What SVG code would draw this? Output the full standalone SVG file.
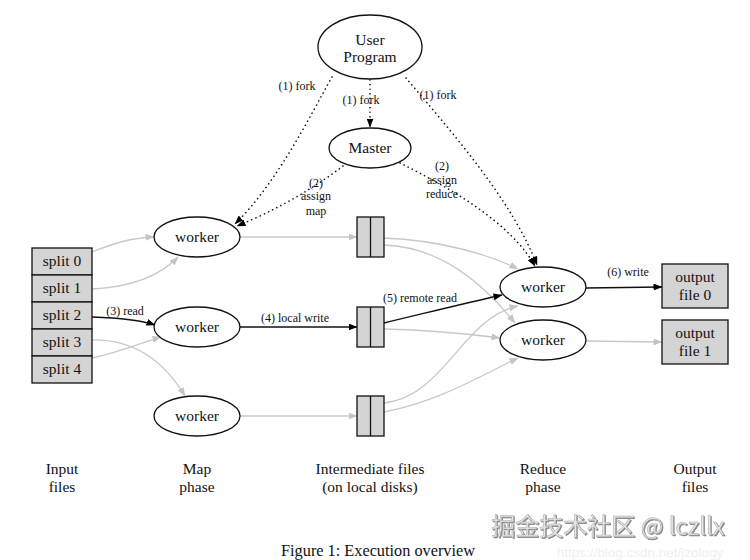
<svg xmlns="http://www.w3.org/2000/svg" width="750" height="560" viewBox="0 0 750 560" font-family="'Liberation Serif', 'Times New Roman', 'DejaVu Serif', serif">
<defs>
<marker id="ab" markerWidth="9" markerHeight="7" refX="8.5" refY="3.5" orient="auto" markerUnits="userSpaceOnUse"><path d="M0,0 L9,3.5 L0,7 Z" fill="#000"/></marker>
<marker id="ag" markerWidth="9" markerHeight="7" refX="8.5" refY="3.5" orient="auto" markerUnits="userSpaceOnUse"><path d="M0,0 L9,3.5 L0,7 Z" fill="#c4c4c4"/></marker>
<filter id="sh" x="-5%" y="-20%" width="110%" height="140%"><feDropShadow dx="1" dy="1" stdDeviation="0.4" flood-color="#777" flood-opacity="0.9"/></filter>
</defs>
<style>
text{font-family:'Liberation Serif','Times New Roman','DejaVu Serif',serif;fill:#111;text-anchor:middle}
.n{font-size:15.5px}
.s{font-size:12px}
.p{font-size:15.5px}
.el{fill:#fff;stroke:#111;stroke-width:1.3}
.bx{fill:#d4d4d4;stroke:#111;stroke-width:1.3}
.blk{fill:none;stroke:#111;stroke-width:1.3;marker-end:url(#ab)}
.gry{fill:none;stroke:#c8c8c8;stroke-width:1.3;marker-end:url(#ag)}
.dot{fill:none;stroke:#111;stroke-width:1.6;stroke-dasharray:0.1 4.5;stroke-linecap:round;marker-end:url(#ab)}
</style>
<rect width="750" height="560" fill="#fff"/>

<g id="connectors">
<path class="dot" d="M370,80 L370,127"/>
<path class="dot" d="M332,77 C312,112 278,182 235,224"/>
<path class="dot" d="M343,166 C312,190 272,212 237,226"/>
<path class="dot" d="M406,78 C450,130 512,200 537,265"/>
<path class="dot" d="M400,163 C450,188 510,222 535,266"/>

<path class="gry" d="M92,252 C115,243 130,238 154,237"/>
<path class="gry" d="M92,289 C130,287 160,276 178,257"/>
<path class="blk" d="M92,317 C120,318 140,320 155,325"/>
<path class="gry" d="M92,358 C120,352 140,343 161,337"/>
<path class="gry" d="M92,340 C140,339 168,368 185,396"/>

<path class="gry" d="M240,237 L357,237"/>
<path class="blk" d="M240,327 L357,327"/>
<path class="gry" d="M240,416 L357,416"/>

<path class="gry" d="M384,238 C440,240 490,255 518,269"/>
<path class="gry" d="M384,245 C440,247 482,282 515,323"/>
<path class="blk" d="M384,323 C430,312 470,302 502,295"/>
<path class="gry" d="M384,329 C430,330 470,334 500,338"/>
<path class="gry" d="M384,403 C445,396 462,318 518,306"/>
<path class="gry" d="M384,412 C440,401 480,376 518,358"/>

<path class="blk" d="M586,288 L662,287"/>
<path class="gry" d="M586,341 L662,342"/>

<text class="s" x="297" y="90">(1) fork</text>
<text class="s" x="361" y="104">(1) fork</text>
<text class="s" x="438" y="99">(1) fork</text>
<text class="s" x="316" y="187">(2)</text>
<text class="s" x="316" y="200">assign</text>
<text class="s" x="316" y="215">map</text>
<text class="s" x="442" y="170">(2)</text>
<text class="s" x="442" y="184">assign</text>
<text class="s" x="442" y="198">reduce</text>
<text class="s" x="125" y="315">(3) read</text>
<text class="s" x="295" y="322">(4) local write</text>
<text class="s" x="420" y="302">(5) remote read</text>
<text class="s" x="628" y="276">(6) write</text>
</g>

<g id="user-program">
<ellipse class="el" cx="370" cy="47" rx="52" ry="32"/>
<text class="n" x="370" y="45">User</text>
<text class="n" x="370" y="62">Program</text>
</g>
<g id="master">
<ellipse class="el" cx="370" cy="148" rx="41" ry="20"/>
<text class="n" x="370" y="153">Master</text>
</g>

<g id="input-splits">
<rect class="bx" x="32" y="248" width="60" height="27"/>
<rect class="bx" x="32" y="275" width="60" height="27"/>
<rect class="bx" x="32" y="302" width="60" height="27"/>
<rect class="bx" x="32" y="329" width="60" height="27"/>
<rect class="bx" x="32" y="356" width="60" height="27"/>
<text class="n" x="62" y="266">split 0</text>
<text class="n" x="62" y="293">split 1</text>
<text class="n" x="62" y="320">split 2</text>
<text class="n" x="62" y="347">split 3</text>
<text class="n" x="62" y="374">split 4</text>
</g>

<g id="map-worker-1">
<ellipse class="el" cx="197" cy="237" rx="43" ry="20"/>
<text class="n" x="197" y="242">worker</text>
</g>
<g id="map-worker-2">
<ellipse class="el" cx="197" cy="327" rx="43" ry="20"/>
<text class="n" x="197" y="332">worker</text>
</g>
<g id="map-worker-3">
<ellipse class="el" cx="197" cy="416" rx="43" ry="20"/>
<text class="n" x="197" y="421">worker</text>
</g>

<g id="intermediate-1">
<rect class="bx" x="357" y="217" width="27" height="40"/>
<line x1="370.5" y1="217" x2="370.5" y2="257" stroke="#111" stroke-width="1.3"/>
</g>
<g id="intermediate-2">
<rect class="bx" x="357" y="307" width="27" height="40"/>
<line x1="370.5" y1="307" x2="370.5" y2="347" stroke="#111" stroke-width="1.3"/>
</g>
<g id="intermediate-3">
<rect class="bx" x="357" y="396" width="27" height="40"/>
<line x1="370.5" y1="396" x2="370.5" y2="436" stroke="#111" stroke-width="1.3"/>
</g>

<g id="reduce-worker-1">
<ellipse class="el" cx="543" cy="287" rx="43" ry="20"/>
<text class="n" x="543" y="292">worker</text>
</g>
<g id="reduce-worker-2">
<ellipse class="el" cx="543" cy="340" rx="43" ry="20"/>
<text class="n" x="543" y="345">worker</text>
</g>

<g id="output-file-0">
<rect class="bx" x="662" y="264" width="66" height="44"/>
<text class="n" x="695" y="282">output</text>
<text class="n" x="695" y="300">file 0</text>
</g>
<g id="output-file-1">
<rect class="bx" x="662" y="320" width="66" height="44"/>
<text class="n" x="695" y="338">output</text>
<text class="n" x="695" y="356">file 1</text>
</g>

<g id="phase-labels">
<text class="p" x="62" y="474">Input</text>
<text class="p" x="62" y="492">files</text>
<text class="p" x="197" y="474">Map</text>
<text class="p" x="197" y="492">phase</text>
<text class="p" x="370" y="474">Intermediate files</text>
<text class="p" x="370" y="492">(on local disks)</text>
<text class="p" x="543" y="474">Reduce</text>
<text class="p" x="543" y="492">phase</text>
<text class="p" x="695" y="474">Output</text>
<text class="p" x="695" y="492">files</text>
</g>

<text x="378" y="556" style="font-size:16.3px">Figure 1: Execution overview</text>

<g id="watermark">
<text x="640" y="557" style="font-family:'Liberation Sans',Arial,sans-serif;font-size:13.5px;fill:#efefef">https://blog.csdn.net/jzology</text>
<text x="608" y="535" filter="url(#sh)" style="font-family:'Noto Sans CJK SC','Noto Sans',sans-serif;font-size:24px;fill:#e6e6e6;stroke:#aaaaaa;stroke-width:0.5">掘金技术社区 @ lczllx</text>
</g>
</svg>
